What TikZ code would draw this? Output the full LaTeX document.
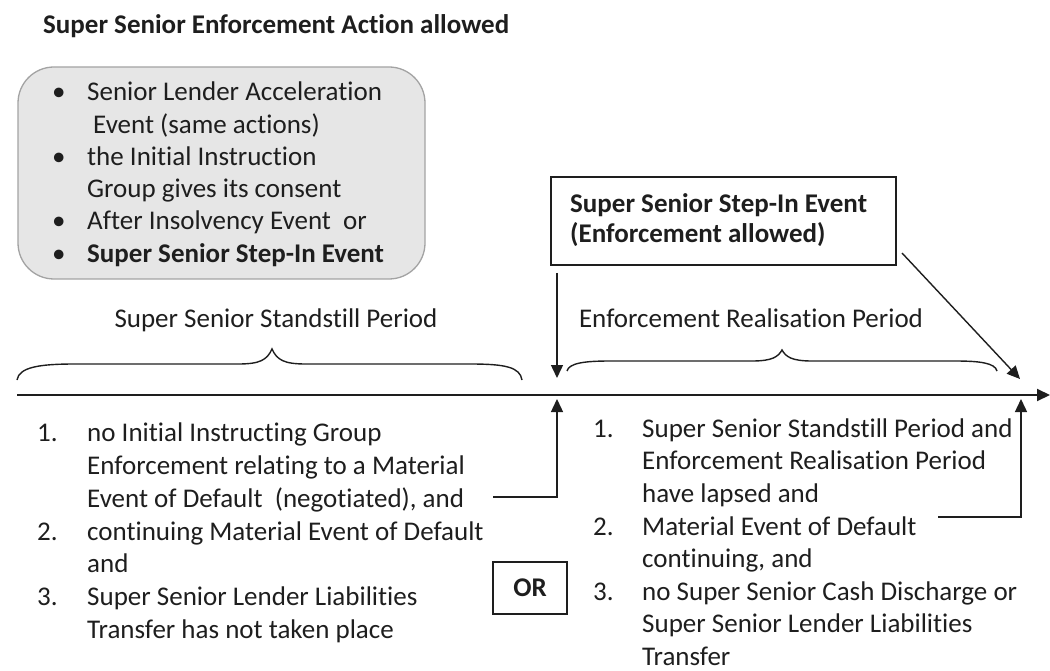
\documentclass[tikz,border=0pt]{standalone}
\usepackage{fontspec}
\setmainfont{Carlito}[Ligatures={NoCommon}]
\usetikzlibrary{arrows.meta}
\definecolor{ink}{HTML}{1E1E1E}
\definecolor{panelfill}{HTML}{E6E6E6}
\definecolor{panelline}{HTML}{A3A3A3}
\begin{document}
\begin{tikzpicture}[x=1pt,y=-1pt,
  txt/.style={anchor=base west,inner sep=0pt,text=ink,font=\fontsize{27}{32.7}\selectfont},
  btxt/.style={txt,font=\fontsize{27}{32.7}\selectfont\bfseries},
  ctxt/.style={txt,anchor=base},
  conn/.style={draw=ink,line width=1.4pt,-{Triangle[width=12pt,length=13pt]}},
  bracepath/.style={draw=ink,line width=1.4pt},
  framebox/.style={draw=ink,line width=1.6pt,inner sep=0pt}
]
\useasboundingbox (0,0) rectangle (1050,671);

% heading
\node[btxt] (title) at (43,34) {Super Senior Enforcement Action allowed};

% grey panel with the list of triggers
\node[draw=panelline,fill=panelfill,line width=1.3pt,rounded corners=36pt,
      minimum width=407pt,minimum height=212pt,inner sep=0pt] (panel) at (221.5,173) {};
\foreach \i/\y in {1/101,3/165.5,5/230,6/262.5}
  \node[txt] (dot\i) at (52,\y) {•};
\node[txt] (p1) at (87,101)   {Senior Lender Acceleration};
\node[txt] (p2) at (93,133.5) {Event (same actions)};
\node[txt] (p3) at (87,165.5) {the Initial Instruction};
\node[txt] (p4) at (87,198)   {Group gives its consent};
\node[txt] (p5) at (87,230)   {After Insolvency Event\ \ or};
\node[btxt] (p6) at (87,262.5) {Super Senior Step-In Event};

% step-in box
\node[framebox,minimum width=345pt,minimum height=88pt] (stepin) at (723.5,221) {};
\node[btxt] (s1) at (570,213) {Super Senior Step-In Event};
\node[btxt] (s2) at (570,243) {(Enforcement allowed)};

% period labels
\node[ctxt] (standstill) at (276,327) {Super Senior Standstill Period};
\node[ctxt] (realisation) at (751,327) {Enforcement Realisation Period};

% braces
\draw[bracepath] (17,380) .. controls (19,367) and (40,364) .. (75,364)
  -- (238,364) .. controls (260,364) and (267,360) .. (272,349)
  .. controls (277,360) and (284,364) .. (306,364)
  -- (470,364) .. controls (505,364) and (520,367) .. (522,380);
\draw[bracepath] (567,371) .. controls (569,363) and (585,361) .. (610,361)
  -- (752,361) .. controls (772,361) and (778,357) .. (782,350)
  .. controls (786,357) and (792,361) .. (812,361)
  -- (955,361) .. controls (980,361) and (995,363) .. (997,371);

% time line
\coordinate (tstart) at (17,395);
\coordinate (tend) at (1050,395);
\draw[conn,line width=2pt] (tstart) -- (tend);

% points on the time line
\coordinate (m1top) at (557,378);
\coordinate (m1bot) at (557,399);
\coordinate (m2top) at (1020,379);
\coordinate (m2bot) at (1021,399);

% left conditions
\node[txt] (n1) at (37,441) {1.};
\node[txt] (n2) at (37,540) {2.};
\node[txt] (n3) at (37,605) {3.};
\node[txt] (l1) at (87,441)   {no Initial Instructing Group};
\node[txt] (l2) at (87,474)   {Enforcement relating to a Material};
\node[txt] (l3) at (87,507)   {Event of Default\ \ (negotiated), and};
\node[txt] (l4) at (87,540)   {continuing Material Event of Default};
\node[txt] (l5) at (87,572.5) {and};
\node[txt] (l6) at (87,605)   {Super Senior Lender Liabilities};
\node[txt] (l7) at (87,638)   {Transfer has not taken place};

% OR box
\node[framebox,minimum width=74pt,minimum height=52pt,
      font=\fontsize{27}{32.7}\selectfont\bfseries,text=ink] (or) at (530,588) {OR};

% right conditions
\node[txt] (r1n) at (593,437) {1.};
\node[txt] (r2n) at (593,535) {2.};
\node[txt] (r3n) at (593,600) {3.};
\node[txt] (r1) at (642,437) {Super Senior Standstill Period and};
\node[txt] (r2) at (642,469.5) {Enforcement Realisation Period};
\node[txt] (r3) at (642,502.5) {have lapsed and};
\node[txt] (r4) at (642,535) {Material Event of Default};
\node[txt] (r5) at (642,567.5) {continuing, and};
\node[txt] (r6) at (642,600)   {no Super Senior Cash Discharge or};
\node[txt] (r7) at (642,632.5) {Super Senior Lender Liabilities};
\node[txt] (r8) at (642,665) {Transfer};

% connectors
\coordinate (fromstep) at (557,273);
\coordinate (fromstepcorner) at (902,253);
\coordinate (fromleft) at (493,497);
\coordinate (fromright) at (938,517);
\draw[conn] (fromstep) -- (m1top);
\draw[conn] (fromstepcorner) -- (m2top);
\draw[conn] (fromleft) -| (m1bot);
\draw[conn] (fromright) -| (m2bot);
\end{tikzpicture}
\end{document}
